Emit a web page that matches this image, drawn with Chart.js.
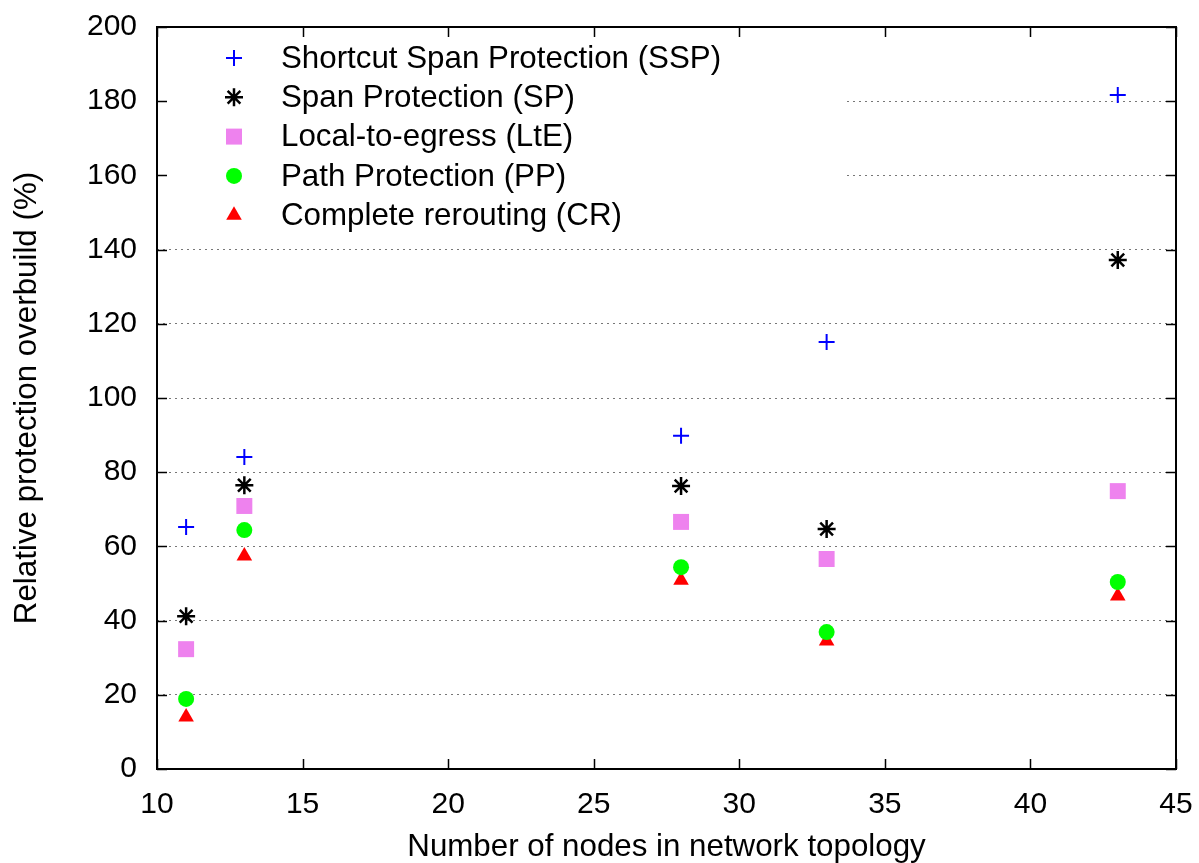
<!DOCTYPE html>
<html>
<head>
<meta charset="utf-8">
<script src="https://cdn.jsdelivr.net/npm/chart.js@4.4.0/dist/chart.umd.min.js"></script>
<style>
  html, body { margin: 0; padding: 0; background: #fff; }
  #wrap { width: 1199px; height: 863px; }
</style>
</head>
<body>
<div id="wrap"><canvas id="protChart"></canvas></div>
<script>
// values
const nodes = [11, 13, 28, 33, 43];
const sspValues = [65.2, 84.1, 89.8, 115.1, 181.7];
const spValues = [41.2, 76.5, 76.3, 64.7, 137.2];
const lteValues = [32.3, 70.9, 66.6, 56.6, 74.9];
const ppValues = [18.9, 64.4, 54.4, 36.9, 50.4];
const crValues = [14.0, 57.4, 50.9, 34.5, 46.6];
const xTicks = [10, 15, 20, 25, 30, 35, 40, 45];
const yTicks = [0, 20, 40, 60, 80, 100, 120, 140, 160, 180, 200];

const FONT = '"Liberation Sans", Arial, sans-serif';
const TICK_SIZE = 30;
const TEXT_SIZE = 31.3;

function pts(vals) {
    return nodes.map((n, i) => ({ x: n, y: vals[i] }));
}

// gnuplot-style frame with inward ticks, plus the key
const framePlugin = {
    id: 'frame',
    beforeDatasetsDraw(chart) {
        const ctx = chart.ctx;
        const a = chart.chartArea;
        // blank area behind the key
        ctx.save();
        ctx.fillStyle = '#fff';
        ctx.fillRect(a.left + 2, a.top + 10, 845 - a.left - 2, 205);
        ctx.restore();
    },
    afterDatasetsDraw(chart) {
        const ctx = chart.ctx;
        const a = chart.chartArea;
        const xs = chart.scales.x, ys = chart.scales.y;
        ctx.save();
        ctx.strokeStyle = '#000';
        ctx.lineWidth = 1.5;
        ctx.beginPath();
        yTicks.forEach(v => {
            const y = Math.round(ys.getPixelForValue(v)) + 0.5;
            ctx.moveTo(a.left, y); ctx.lineTo(a.left + 10, y);
            ctx.moveTo(a.right, y); ctx.lineTo(a.right - 10, y);
        });
        xTicks.forEach(v => {
            const x = Math.round(xs.getPixelForValue(v)) + 0.5;
            ctx.moveTo(x, a.bottom); ctx.lineTo(x, a.bottom - 10);
            ctx.moveTo(x, a.top); ctx.lineTo(x, a.top + 10);
        });
        ctx.stroke();
        ctx.lineWidth = 2;
        ctx.strokeRect(a.left, a.top, a.right - a.left, a.bottom - a.top);

        // key
        ctx.font = TEXT_SIZE + 'px ' + FONT;
        ctx.textBaseline = 'middle';
        chart.data.datasets.forEach((ds, i) => {
            const y = 58 + i * 39.3;
            ctx.fillStyle = ds.backgroundColor;
            ctx.strokeStyle = ds.borderColor;
            ctx.lineWidth = ds.borderWidth;
            Chart.helpers.drawPoint(ctx, {
                pointStyle: ds.pointStyle, radius: ds.pointRadius,
                borderWidth: ds.borderWidth, rotation: 0
            }, 234, y);
            ctx.fillStyle = '#000';
            ctx.fillText(ds.label, 281, y + 1);
        });
        ctx.restore();
    }
};

const ctxProt = document.getElementById('protChart').getContext('2d');
new Chart(ctxProt, {
    type: 'scatter',
    data: {
        datasets: [
            {
                label: 'Shortcut Span Protection (SSP)',
                data: pts(sspValues),
                pointStyle: 'cross', pointRadius: 8, borderWidth: 2,
                borderColor: '#0000ff', backgroundColor: '#0000ff'
            },
            {
                label: 'Span Protection (SP)',
                data: pts(spValues),
                pointStyle: 'star', pointRadius: 9, borderWidth: 2.5,
                borderColor: '#000000', backgroundColor: '#000000'
            },
            {
                label: 'Local-to-egress (LtE)',
                data: pts(lteValues),
                pointStyle: 'rect', pointRadius: 11.3, borderWidth: 0,
                borderColor: '#ee82ee', backgroundColor: '#ee82ee'
            },
            {
                label: 'Path Protection (PP)',
                data: pts(ppValues),
                pointStyle: 'circle', pointRadius: 8, borderWidth: 0,
                borderColor: '#00ff00', backgroundColor: '#00ff00'
            },
            {
                label: 'Complete rerouting (CR)',
                data: pts(crValues),
                pointStyle: 'triangle', pointRadius: 9, borderWidth: 0,
                borderColor: '#ff0000', backgroundColor: '#ff0000'
            }
        ]
    },
    options: {
        responsive: true,
        maintainAspectRatio: false,
        animation: false,
        layout: { padding: { top: 27, right: 23, left: 0, bottom: 0 } },
        plugins: {
            legend: { display: false },
            tooltip: { enabled: false }
        },
        scales: {
            x: {
                type: 'linear', min: 10, max: 45,
                afterBuildTicks: s => { s.ticks = xTicks.map(v => ({ value: v })); },
                afterFit: s => { s.height = 94; s.paddingLeft = 0; s.paddingRight = 0; },
                grid: { display: false, drawTicks: false },
                border: { display: false },
                ticks: { color: '#000', font: { family: FONT, size: TICK_SIZE }, padding: 18, maxRotation: 0 },
                title: {
                    display: true, text: 'Number of nodes in network topology',
                    color: '#000', font: { family: FONT, size: TEXT_SIZE }, padding: { top: 4, bottom: -3 }
                }
            },
            y: {
                type: 'linear', min: 0, max: 200,
                afterBuildTicks: s => { s.ticks = yTicks.map(v => ({ value: v })); },
                afterFit: s => { s.width = 157; s.paddingTop = 0; s.paddingBottom = 0; },
                grid: {
                    color: '#777', lineWidth: 1, drawTicks: false
                },
                border: { display: false, dash: [2, 4] },
                ticks: { color: '#000', font: { family: FONT, size: TICK_SIZE }, padding: 20 },
                title: {
                    display: true, text: 'Relative protection overbuild (%)',
                    color: '#000', font: { family: FONT, size: TEXT_SIZE }, padding: { top: 9, bottom: 0 }
                }
            }
        }
    },
    plugins: [framePlugin]
});
</script>
</body>
</html>
